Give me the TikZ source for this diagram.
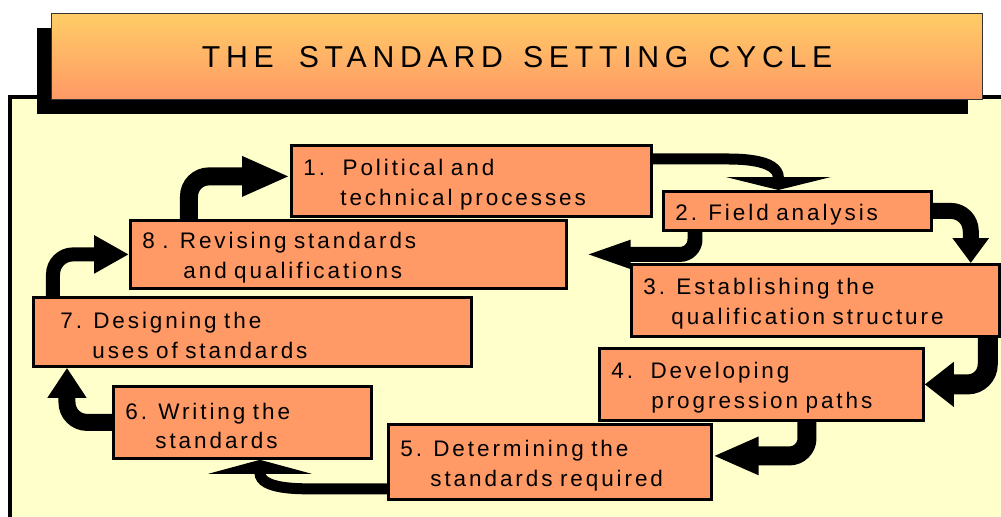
\documentclass[tikz,border=0pt]{standalone}
\usepackage{fontspec}
\setmainfont{Liberation Sans}
\newfontfamily\boxfont[LetterSpace=13]{Liberation Sans}
\newfontfamily\titlefont[LetterSpace=19]{Liberation Sans}
\newcommand\stagefont{\boxfont\fontsize{12.8}{17}\selectfont\spaceskip=0.5em\relax}
\usetikzlibrary{arrows.meta,shadows}
\definecolor{panelyellow}{HTML}{FFFFCC}
\definecolor{boxorange}{HTML}{FF9966}
\definecolor{titletop}{HTML}{FFCC66}
\definecolor{titlebottom}{HTML}{FF9966}
\tikzset{
  stagebox/.style={draw=black, line width=1.6pt, fill=boxorange, anchor=north west, align=left,
    inner xsep=0.24cm, inner ysep=0pt, text height=0.47cm, font=\stagefont},
  titlebox/.style={draw=black!80, line width=0.8pt, top color=titletop, bottom color=titlebottom,
    anchor=north west, minimum width=18.62cm, minimum height=1.72cm,
    font=\titlefont\fontsize{17.2}{20}\selectfont,
    drop shadow={shadow xshift=-0.3cm, shadow yshift=-0.28cm, fill=black, opacity=1}},
  flow/.style={draw=black, rounded corners=0.4cm}
}

\begin{document}
\begin{tikzpicture}[x=0.02cm, y=0.02cm]
\useasboundingbox (0,0) rectangle (1001,-517);
\clip (0,0) rectangle (1001,-517);
\draw[fill=panelyellow, line width=2.3pt] (10,-97) rectangle (1040,-560);
\node[titlebox] (title) at (51,-13) {THE\hspace{0.5cm}STANDARD\hspace{0.12cm} SETTING\hspace{0.12cm} CYCLE};
\node[stagebox, text width=6.72cm, minimum height=1.42cm] (b1) at (290,-144) {1.\hspace{0.35cm}Political and\\\hspace*{0.74cm}technical processes};
\node[stagebox, text width=4.88cm, minimum height=0.78cm] (b2) at (662,-190) {2. Field analysis};
\node[stagebox, text width=6.88cm, minimum height=1.44cm] (b3) at (630,-263) {3. Establishing the\\\hspace*{0.56cm}qualification structure};
\node[stagebox, text width=6.0cm, minimum height=1.44cm] (b4) at (598,-347) {4.\hspace{0.35cm}Developing\\\hspace*{0.8cm}progression paths};
\node[stagebox, text width=5.98cm, minimum height=1.5cm] (b5) at (387,-423) {5. Determining the\\\hspace*{0.6cm}standards required};
\node[stagebox, text width=4.68cm, minimum height=1.44cm] (b6) at (112,-385) {6. Writing the\\\hspace*{0.6cm}standards};
\node[stagebox, text width=8.28cm, minimum height=1.38cm] (b7) at (32,-296) {\hspace*{0.3cm}7. Designing the\\\hspace*{0.94cm}uses of standards};
\node[stagebox, text width=8.24cm, minimum height=1.36cm] (b8) at (129,-219) {8 . Revising standards\\\hspace*{0.82cm}and qualifications};
\draw[flow, line width=0.36cm, -{Triangle[length=0.96cm, width=0.74cm]}] ([xshift=1.2cm]b8.north west) |- ([yshift=0.09cm]b1.west);
\draw[flow, line width=0.22cm, -{Triangle[length=0.26cm, width=2.1cm]}] ([yshift=-0.3cm]b1.north east) -- ++(50,0) to[out=0, in=90] ([xshift=-0.38cm]b2.north);
\draw[flow, line width=0.32cm, -{Triangle[length=0.5cm, width=0.7cm]}] (b2.east) -| ([xshift=-0.6cm]b3.north east);
\draw[flow, line width=0.3cm, rounded corners=0.3cm, -{Triangle[length=1.26cm, width=0.44cm]}] ([xshift=0.66cm]b2.south west) |- (b8.east);
\draw[flow, line width=0.4cm, -{Triangle[length=0.58cm, width=0.86cm]}] ([xshift=-0.26cm]b3.south east) |- (b4.east);
\draw[flow, line width=0.38cm, rounded corners=0.35cm, -{Triangle[length=0.92cm, width=0.7cm]}] ([xshift=4.18cm]b4.south west) |- ([yshift=0.12cm]b5.east);
\draw[flow, line width=0.22cm, -{Triangle[length=0.28cm, width=2.06cm]}] ([yshift=0.24cm]b5.south west) -- ++(-57,0) to[out=180, in=-90] ([xshift=2.96cm]b6.south west);
\draw[flow, line width=0.34cm, -{Triangle[length=0.6cm, width=0.74cm]}] (b6.west) -| ([xshift=0.7cm]b7.south west);
\draw[flow, line width=0.28cm, -{Triangle[length=0.7cm, width=0.72cm]}] ([xshift=0.42cm]b7.north west) |- (b8.west);
\end{tikzpicture}
\end{document}
